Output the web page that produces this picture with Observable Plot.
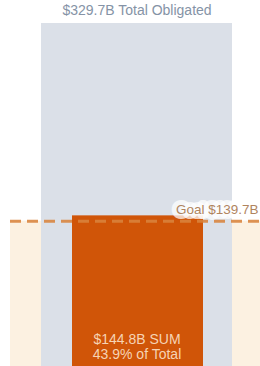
<!DOCTYPE html>
<html>
<head>
<meta charset="utf-8">
<script src="https://cdn.jsdelivr.net/npm/d3@7"></script>
<script src="https://cdn.jsdelivr.net/npm/@observablehq/plot@0.6"></script>
<style>
  html, body { margin: 0; padding: 0; background: #ffffff; }
  #chart svg { display: block; }
</style>
</head>
<body>
<div id="chart"></div>
<script>
const category = ["Obligated"];
const totalObligated = [329.7];
const sumValue = [144.8];
const goalValue = [139.7];
const titleLabel = ["$329.7B Total Obligated"];
const goalLabel = ["Goal $139.7B"];
const sumLabel = ["$144.8B SUM\n43.9% of Total"];

const rows = category.map((c, i) => ({
  cat: c, total: totalObligated[i], sum: sumValue[i], goal: goalValue[i],
  title: titleLabel[i], goalText: goalLabel[i], sumText: sumLabel[i]
}));

const chart = Plot.plot({
  width: 260,
  height: 366,
  marginLeft: 41,
  marginRight: 28,
  marginTop: 23,
  marginBottom: 0,
  style: { fontFamily: "'Liberation Sans', Arial, sans-serif", background: "#ffffff" },
  x: { type: "band", domain: category, padding: 0, axis: null },
  y: { domain: [0, totalObligated[0]], axis: null },
  marks: [
    Plot.barY(rows, { x: "cat", y: "goal", fill: "#fcf1e1", insetLeft: -31, insetRight: -28 }),
    Plot.barY(rows, { x: "cat", y: "total", fill: "#dbe0e8" }),
    Plot.barY(rows, { x: "cat", y: "sum", fill: "#d05508", insetLeft: 31, insetRight: 29 }),
    Plot.ruleY(rows, { y: "goal", stroke: "#d8833c", strokeOpacity: 0.88, strokeWidth: 3, strokeDasharray: "11,6", insetLeft: -31, insetRight: -28 }),
    Plot.text(rows, { y: "goal", text: "goalText", frameAnchor: "right", textAnchor: "end", dx: 26, dy: -11, fontSize: 13.5, fill: "#b0845e", stroke: "#ffffff", strokeOpacity: 0.72, strokeWidth: 10, strokeLinejoin: "round" }),
    Plot.text(rows, { x: "cat", y: "total", text: "title", dy: -13, fontSize: 14, fill: "#8593a6" }),
    Plot.text(rows, { x: "cat", y: 0, text: "sumText", lineAnchor: "bottom", dy: -8, fontSize: 14, lineHeight: 1.07, fill: "#f6d3b4" })
  ]
});
document.getElementById("chart").appendChild(chart);
</script>
</body>
</html>
